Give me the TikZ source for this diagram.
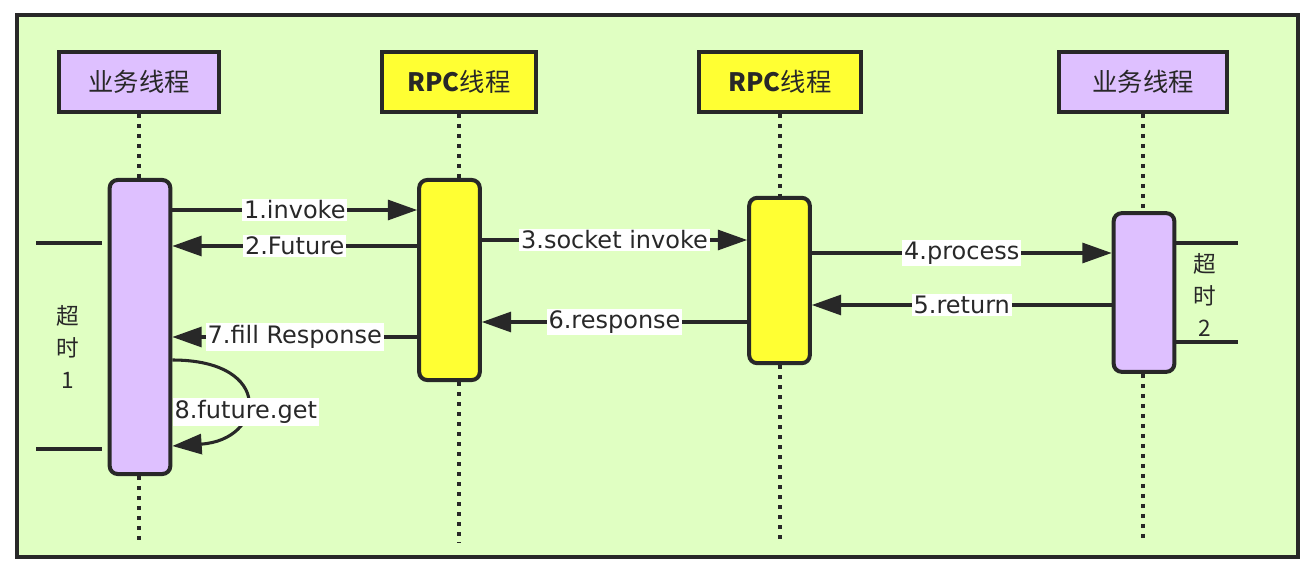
\documentclass[tikz,border=0pt]{standalone}
\usepackage{fontspec}
\setmainfont{DejaVu Sans}
\newfontfamily\cjk{Noto Sans CJK SC}
\usetikzlibrary{arrows.meta,calc}
\definecolor{bg}{RGB}{224,255,194}
\definecolor{purp}{RGB}{222,192,255}
\definecolor{yel}{RGB}{255,255,51}
\definecolor{ink}{RGB}{40,40,40}

\begin{document}
\begin{tikzpicture}[x=0.75pt,y=-0.75pt, >={Triangle[length=22pt,width=15pt]},
  font=\fontsize{18}{20}\selectfont, text=ink,
  hdr/.style={draw=ink,line width=3pt,minimum height=45pt,font=\cjk\fontsize{19}{22}\selectfont},
  act/.style={draw=ink,line width=3pt,rounded corners=6pt,minimum width=45.5pt},
  msg/.style={draw=ink,line width=2.3pt,->},
  lbl/.style={fill=white,inner sep=1.5pt},
  life/.style={draw=ink,line width=3pt,dash pattern=on 3pt off 4.5pt},
  tick/.style={draw=ink,line width=2.3pt},
  side/.style={font=\cjk\fontsize{17}{24}\selectfont,align=center}]
  \useasboundingbox (0,0) rectangle (1310,574);
  % frame
  \draw[ink,line width=3pt,fill=bg] (17,15) rectangle (1298,557);
  % thread heads
  \foreach \i/\x/\w/\c/\t in {1/139/120/purp/业务线程,2/459/115.5/yel/{\bfseries RPC}线程,
      3/780/122/yel/{\bfseries RPC}线程,4/1143/126/purp/业务线程}
    \node[hdr,fill=\c,minimum width=\w pt] (h\i) at (\x,82) {\t};
  % activations
  \node[act,fill=purp,minimum height=220.5pt] (a1) at (140,327) {};
  \node[act,fill=yel,minimum height=150pt] (a2) at (449.5,280) {};
  \node[act,fill=yel,minimum height=124pt] (a3) at (779.5,280.5) {};
  \node[act,fill=purp,minimum height=119pt] (a4) at (1144,292.5) {};
  % lifelines
  \coordinate (end) at (0,543);
  \foreach \i in {1,...,4} {
    \draw[life] (h\i.south) -- (h\i.south |- a\i.north);
    \draw[life] (h\i.south |- a\i.south) -- (h\i.south |- end);
  }
  % messages
  \draw[msg] (a1.east |- 0,210) -- (a2.west |- 0,210) node[lbl,midway]{1.invoke};
  \draw[msg] (a2.west |- 0,246) -- (a1.east |- 0,246) node[lbl,midway]{2.Future};
  \draw[msg] (a2.east |- 0,240) -- (a3.west |- 0,240) node[lbl,midway]{3.socket invoke};
  \draw[msg] (a3.east |- 0,253) -- (a4.west |- 0,253) node[lbl,midway]{4.process};
  \draw[msg] (a4.west |- 0,305) -- (a3.east |- 0,305) node[lbl,midway]{5.return};
  \draw[msg] (a3.west |- 0,322) -- (a2.east |- 0,322) node[lbl,midway]{6.response};
  \draw[msg] (a2.west |- 0,337) -- (a1.east |- 0,337) node[lbl,midway]{7.fill Response};
  \draw[msg] (a1.east |- 0,360) .. controls (275,360) and (265,440) .. (a1.east |- 0,446);
  \node[lbl,anchor=west] (l8) at (a1.east |- 0,412) {8.future.get};
  % timeouts
  \draw[tick] (36,243) -- (102,243);
  \draw[tick] (36,449) -- (102,449);
  \node[side] (t1) at (68,347) {超\\时\\1};
  \draw[tick] (a4.east |- 0,243) -- (1238,243);
  \draw[tick] (a4.east |- 0,342) -- (1238,342);
  \node[side] (t2) at (1205,295) {超\\时\\2};
\end{tikzpicture}
\end{document}
